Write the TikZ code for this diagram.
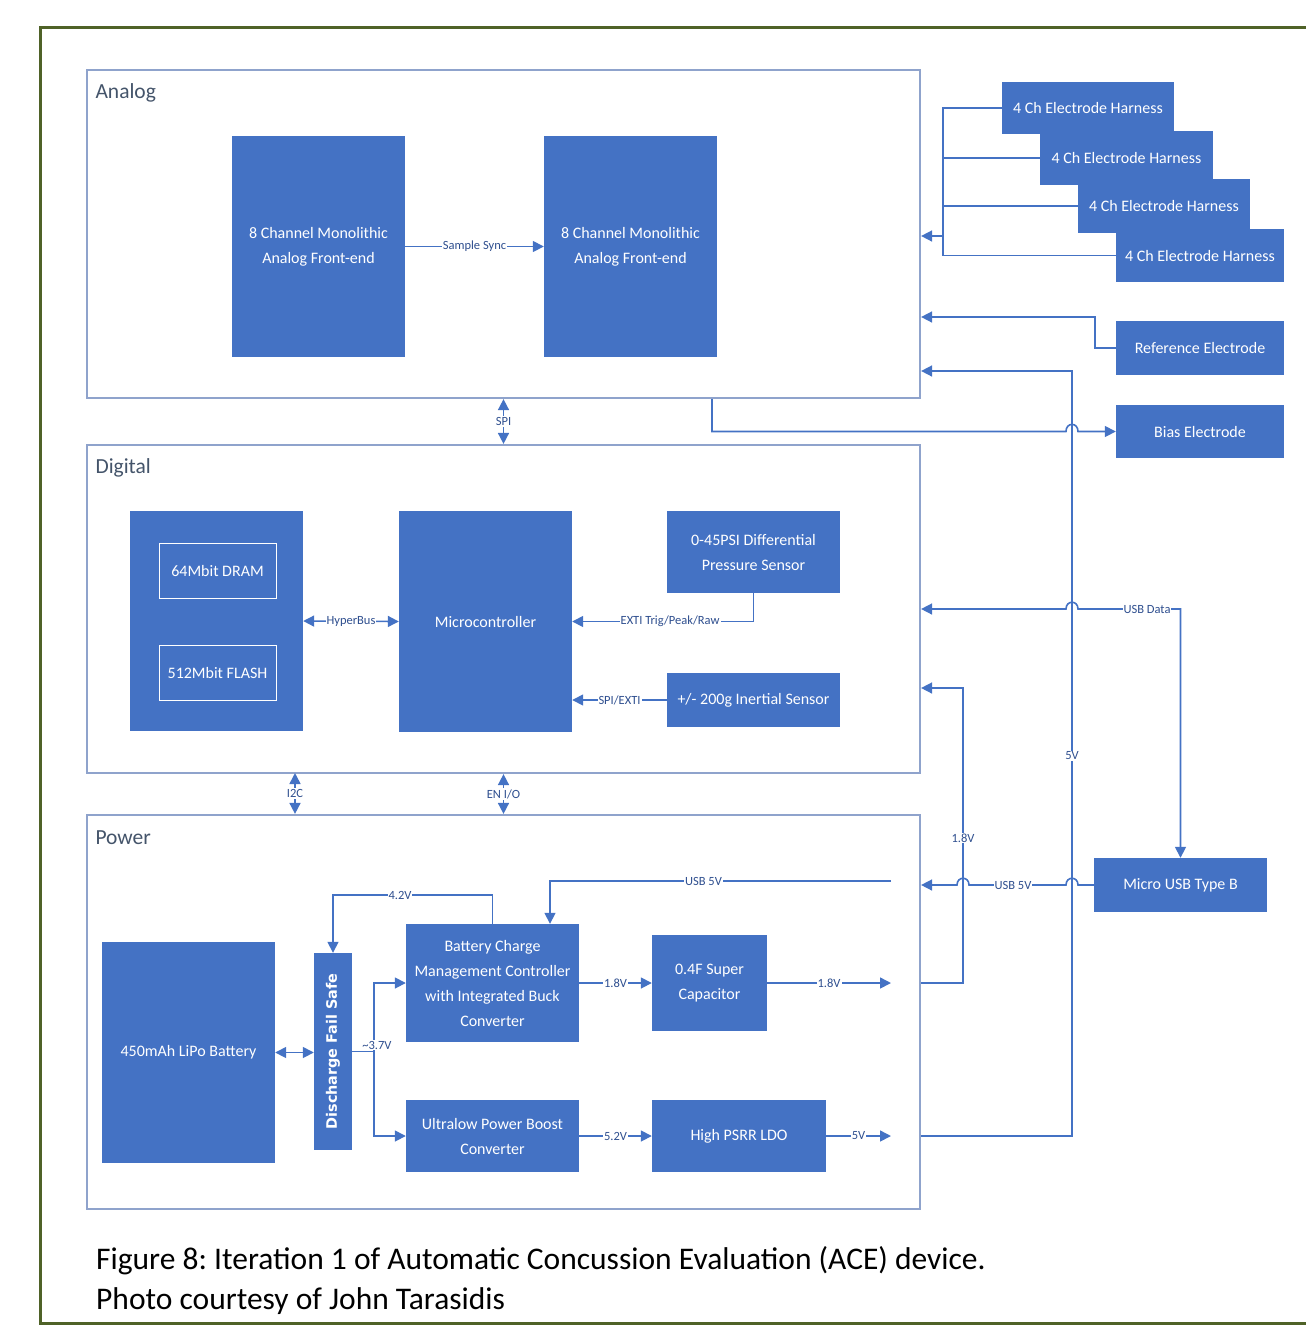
\documentclass[tikz,border=0pt]{standalone}
\usepackage{fontspec}
\setmainfont{Carlito}
\newfontfamily\vfont{DejaVu Sans}
\usepackage{tikz}
\usetikzlibrary{arrows.meta}
\definecolor{blkblue}{HTML}{4472C4}
\definecolor{secline}{RGB}{143,163,204}
\definecolor{sectext}{HTML}{44546A}
\definecolor{lbltext}{RGB}{47,79,143}
\definecolor{framegreen}{HTML}{4F6228}

\begin{document}
\begin{tikzpicture}[x=1pt, y=-1pt,
  blk/.style={rectangle, fill=blkblue, text=white, align=center, inner sep=0pt, font=\fontsize{16}{25}\selectfont},
  memblk/.style={rectangle, draw=white, line width=1pt, text=white, inner sep=0pt, font=\fontsize{16}{25}\selectfont},
  sect/.style={rectangle, draw=secline, line width=2.2pt, inner sep=0pt},
  sectlbl/.style={anchor=west, text=sectext, font=\fontsize{21.5}{25}\selectfont},
  conn/.style={draw=blkblue, line width=1.6pt, >={Triangle[length=11pt,width=11pt]}},
  lbl/.style={fill=white, text=lbltext, inner sep=1pt, font=\fontsize{12.5}{14}\selectfont}]
  \useasboundingbox (0,0) rectangle (1306,1326);
  \draw[framegreen, line width=3pt] (1320,27) -- (40,27) -- (40,1323) -- (1320,1323);

  % sections
  \node[sect, minimum width=833, minimum height=328] (analog) at (503.5,234) {};
  \node[sect, minimum width=833, minimum height=328] (digital) at (503.5,609) {};
  \node[sect, minimum width=833, minimum height=394] (power) at (503.5,1012) {};
  \node[sectlbl] (analoglbl) at (92,93) {Analog};
  \node[sectlbl] (digitallbl) at (92,468) {Digital};
  \node[sectlbl] (powerlbl) at (92,838) {Power};

  % analog
  \node[blk, minimum width=173, minimum height=221] (afe1) at (318.5,246.5) {8 Channel Monolithic\\Analog Front-end};
  \node[blk, minimum width=173, minimum height=221] (afe2) at (630.5,246.5) {8 Channel Monolithic\\Analog Front-end};

  % digital
  \node[blk, minimum width=173, minimum height=220] (mem) at (216.5,621) {};
  \node[memblk, minimum width=117, minimum height=55] (dram) at (217.5,570.5) {64Mbit DRAM};
  \node[memblk, minimum width=117, minimum height=55] (flash) at (217.5,672.5) {512Mbit FLASH};
  \node[blk, minimum width=173, minimum height=221] (mcu) at (485.5,621.5) {Microcontroller};
  \node[blk, minimum width=173, minimum height=82] (press) at (753.5,552) {0-45PSI Differential\\Pressure Sensor};
  \node[blk, minimum width=173, minimum height=54] (inert) at (753.5,700) {+/- 200g Inertial Sensor};

  % power
  \node[blk, minimum width=173, minimum height=221] (batt) at (188.5,1052.5) {450mAh LiPo Battery};
  \node[blk, minimum width=38, minimum height=197] (fs) at (333,1051.5) {\rotatebox{90}{\vfont\bfseries\fontsize{14.4}{15}\selectfont Discharge Fail Safe}};
  \node[blk, minimum width=173, minimum height=118] (bcm) at (492.5,983) {Battery Charge\\Management Controller\\with Integrated Buck\\Converter};
  \node[blk, minimum width=173, minimum height=72] (boost) at (492.5,1136) {Ultralow Power Boost\\Converter};
  \node[blk, minimum width=115, minimum height=96] (cap) at (709.5,983) {0.4F Super\\Capacitor};
  \node[blk, minimum width=174, minimum height=72] (ldo) at (739,1136) {High PSRR LDO};

  % outside
  \node[blk, minimum width=172, minimum height=52] (h1) at (1088,108) {4 Ch Electrode Harness};
  \node[blk, minimum width=173, minimum height=54] (h2) at (1126.5,158) {4 Ch Electrode Harness};
  \node[blk, minimum width=172, minimum height=54] (h3) at (1164,206) {4 Ch Electrode Harness};
  \node[blk, minimum width=168, minimum height=53] (h4) at (1200,255.5) {4 Ch Electrode Harness};
  \node[blk, minimum width=168, minimum height=54] (ref) at (1200,348) {Reference Electrode};
  \node[blk, minimum width=168, minimum height=53] (bias) at (1200,431.5) {Bias Electrode};
  \node[blk, minimum width=173, minimum height=54] (usb) at (1180.5,885) {Micro USB Type B};

  % turning points
  \coordinate (hbtop) at (943,108);
  \coordinate (hbbot) at (943,255.5);
  \coordinate (hbin) at (943,236);
  \coordinate (refin) at (1095,317);
  \coordinate (v5top) at (1072,371);
  \coordinate (v18top) at (963,688);
  \coordinate (udata) at (1180.5,609);
  \coordinate (biasx) at (712,431.5);
  \coordinate (i2c) at (295,773);
  \coordinate (split) at (374,1051.5);
  \coordinate (v42) at (492.5,895);
  \coordinate (usbin) at (891,881);
  \coordinate (usbdrop) at (550,881);
  \coordinate (capout) at (891,983);
  \coordinate (ldoout) at (891,1136);

  % analog links
  \draw[conn,->] (afe1.east) -- node[lbl] (synclbl) {Sample Sync} (afe2.west);
  \draw[conn,<->] (analog.south) -- node[lbl] (spilbl) {SPI} (digital.north);

  % digital links
  \draw[conn,<->] (mem.east) -- node[lbl] (hyperlbl) {HyperBus} (mcu.west);
  \draw[conn,->] (press.south) |- node[lbl,pos=0.73] (extilbl) {EXTI Trig/Peak/Raw} (mcu.east);
  \draw[conn,->] (inert.west) -- node[lbl] (spiextilbl) {SPI/EXTI} (inert.west -| mcu.east);
  \draw[conn,<->] (i2c) -- node[lbl] (i2clbl) {I2C} (i2c |- power.north);
  \draw[conn,<->] (digital.south) -- node[lbl] (enlbl) {EN I/O} (power.north);

  % power links
  \draw[conn,<->] (batt.east) -- (batt.east -| fs.west);
  \draw[conn] (fs.east |- split) -- (split);
  \draw[conn,->] (split) |- (bcm.west);
  \draw[conn,->] (split) |- (boost.west);
  \node[lbl] (v37lbl) at (377,1045) {\textasciitilde3.7V};
  \draw[conn,->] (bcm.north) -- (v42) -| node[lbl,pos=0.29] (v42lbl) {4.2V} (fs.north);
  \draw[conn,->] (usbin) -- node[lbl,pos=0.55] (usbinlbl) {USB 5V} (usbdrop) -- (usbdrop |- bcm.north);
  \draw[conn,->] (bcm.east) -- node[lbl] (bcm18lbl) {1.8V} (cap.west);
  \draw[conn,->] (cap.east) -- node[lbl] (cap18lbl) {1.8V} (capout);
  \draw[conn,->] (boost.east) -- node[lbl] (v52lbl) {5.2V} (ldo.west);
  \draw[conn,->] (ldo.east) -- node[lbl] (v5outlbl) {5V} (ldoout);

  % outside links
  \draw[conn] (h1.west) -- (hbtop) -- (hbbot) -- (h4.west);
  \draw[conn] (h2.west) -- (h2.west -| hbtop);
  \draw[conn] (h3.west) -- (h3.west -| hbtop);
  \draw[conn,->] (hbin) -- (hbin -| analog.east);
  \draw[conn,->] (ref.west) -| (refin) -- (refin -| analog.east);
  \draw[conn,->] (power.east |- ldo.east) -| (v5top) -- (v5top -| analog.east);
  \draw[conn,->] (power.east |- cap.east) -| (v18top) -- (v18top -| digital.east);
  \node[lbl] (v5lbl) at (1072,756) {5V};
  \node[lbl] (v18lbl) at (963,838) {1.8V};
  \draw[conn,->] (biasx |- analog.south) -- (biasx) -- (1066,431.5) .. controls (1066,422) and (1078,422) .. (1078,431.5) -- (bias.west);
  \draw[conn,<->] (usb.north) -- (udata) -- (1078,609) .. controls (1078,600) and (1066,600) .. (1066,609) -- (udata -| digital.east);
  \node[lbl] (udatalbl) at (1147,609) {USB Data};
  \draw[conn,->] (usb.west) -- (1078,885) .. controls (1078,876) and (1066,876) .. (1066,885) -- (969,885) .. controls (969,876) and (957,876) .. (957,885) -- (usb.west -| power.east);
  \node[lbl] (usboutlbl) at (1013,885) {USB 5V};

  % caption
  \node[anchor=west, align=left, inner sep=0pt, font=\fontsize{31.5}{40}\selectfont\frenchspacing] (caption) at (96,1281) {Figure 8: Iteration 1 of Automatic Concussion Evaluation (ACE) device.\\Photo courtesy of John Tarasidis};
\end{tikzpicture}
\end{document}
